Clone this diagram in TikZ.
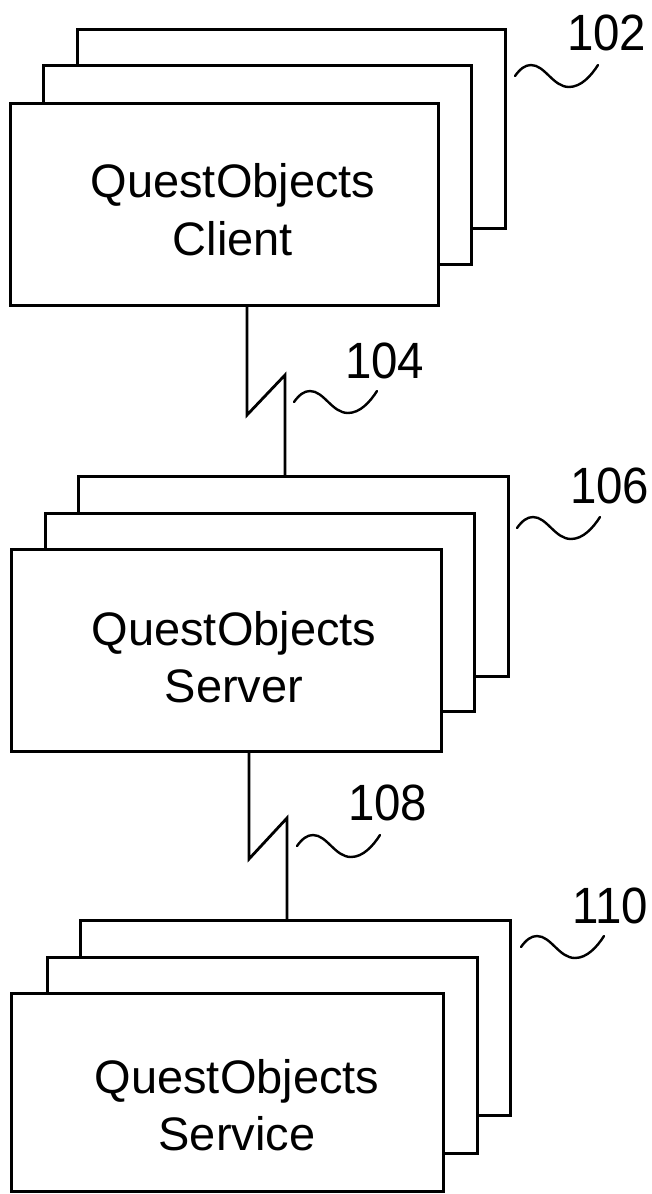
\documentclass[tikz,border=0pt]{standalone}
\usepackage{fontspec}
\setmainfont{Liberation Sans}
\newfontfamily\lblfont[FakeStretch=0.93]{Liberation Sans}
\tikzset{
  box/.style={draw, line width=3pt, fill=white, rectangle, inner sep=0pt, anchor=north west},
  link/.style={line width=2.8pt, line join=miter},
  maintext/.style={inner sep=0pt, anchor=base, font=\fontsize{47}{56}\selectfont},
  lbl/.style={inner sep=0pt, anchor=base west, font=\lblfont\fontsize{51}{60}\selectfont},
  squig/.pic={\draw[line width=2.4pt, line cap=round]
     (0,0) .. controls (5,-7) and (10,-11) .. (16,-11)
     .. controls (30,-11) and (38,11) .. (54,11)
     .. controls (66,11) and (76,0) .. (83,-11);}
}
\begin{document}
\begin{tikzpicture}[x=1pt,y=-1pt]
\useasboundingbox (0,0) rectangle (652,1194);
% Client group
\node[box, minimum width=428pt, minimum height=199pt] (b1) at (76,28) {};
\node[box, minimum width=428pt, minimum height=199pt] (m1) at (42,64) {};
\node[box, minimum width=428pt, minimum height=202pt] (f1) at (9,102) {};
\node[maintext] (t1a) at (233,197) {QuestObjects};
\node[maintext] (t1b) at (233,255) {Client};
% Server group
\node[box, minimum width=430pt, minimum height=200pt] (b2) at (77,475) {};
\node[box, minimum width=429pt, minimum height=198pt] (m2) at (44,512) {};
\node[box, minimum width=430pt, minimum height=202pt] (f2) at (10,548) {};
\node[maintext] (t2a) at (234,645) {QuestObjects};
\node[maintext] (t2b) at (234,702) {Server};
% Service group
\node[box, minimum width=430pt, minimum height=195pt] (b3) at (79,919) {};
\node[box, minimum width=430pt, minimum height=196pt] (m3) at (46,956) {};
\node[box, minimum width=432pt, minimum height=198pt] (f3) at (10,992) {};
\node[maintext] (t3a) at (237,1093) {QuestObjects};
\node[maintext] (t3b) at (237,1150) {Service};
% connectors
\coordinate (z1a) at (247,415);
\coordinate (z1b) at (285,375);
\draw[link] (f1.south -| z1a) -- (z1a) -- (z1b) -- (b2.north -| z1b);
\coordinate (z2a) at (249,859);
\coordinate (z2b) at (287,818);
\draw[link] (f2.south -| z2a) -- (z2a) -- (z2b) -- (b3.north -| z2b);
% labels
\node[lbl] (l102) at (567,50) {102};
\node[lbl] (l104) at (345,378) {104};
\node[lbl] (l106) at (570,503) {106};
\node[lbl] (l108) at (348,820) {108};
\node[lbl] (l110) at (572,923) {110};
\pic at (515,76) {squig};
\pic at (294,402) {squig};
\pic at (517,528) {squig};
\pic at (297,846) {squig};
\pic at (521,947) {squig};
\end{tikzpicture}
\end{document}
